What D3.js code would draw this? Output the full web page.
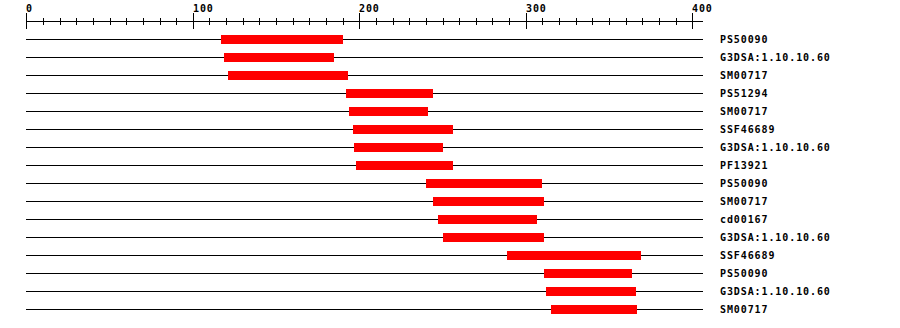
<!DOCTYPE html>
<html><head><meta charset="utf-8">
<script src="https://cdn.jsdelivr.net/npm/d3@7"></script>
<style>body{margin:0;background:#fff}svg{display:block}</style>
</head><body>
<script>
const seqLength = 406;
const labels = ["PS50090","G3DSA:1.10.10.60","SM00717","PS51294","SM00717","SSF46689","G3DSA:1.10.10.60","PF13921","PS50090","SM00717","cd00167","G3DSA:1.10.10.60","SSF46689","PS50090","G3DSA:1.10.10.60","SM00717"];
const starts = [117,119,121,192,194,196,197,198,240,244,247,250,289,311,312,315];
const ends   = [190,185,193,244,241,256,250,256,310,311,307,311,369,364,366,367];
const majorTicks = [0,100,200,300,400];
const minorTicks = d3.range(0,401,10);

const W=900,H=328;
const svg=d3.select("body").append("svg").attr("width",W).attr("height",H);
const x=d3.scaleLinear().domain([0,400]).range([26.3,692.3]);
const y=d3.scaleBand().domain(d3.range(labels.length)).range([30,318]);
const font="'DejaVu Sans Mono', monospace";

// axis
svg.append("line").attr("x1",Math.round(x(0))).attr("x2",Math.round(x(seqLength))+1)
  .attr("y1",21.5).attr("y2",21.5).attr("stroke","#000").attr("stroke-width",1);
svg.selectAll("line.minor").data(minorTicks).join("line").attr("class","minor")
  .attr("x1",d=>Math.round(x(d))+0.5).attr("x2",d=>Math.round(x(d))+0.5)
  .attr("y1",d=>d%100===0?13:18).attr("y2",d=>d%100===0?29:25)
  .attr("stroke","#000").attr("stroke-width",1);
svg.selectAll("text.tl").data(majorTicks).join("text").attr("class","tl")
  .attr("x",d=>Math.round(x(d))).attr("y",12)
  .attr("font-family",font).attr("font-weight","bold").attr("font-size","10px")
  .attr("letter-spacing","0.9px").text(d=>d);

// rows
const rows=svg.selectAll("g.row").data(labels).join("g").attr("class","row");
rows.append("line")
  .attr("x1",Math.round(x(0))).attr("x2",Math.round(x(seqLength))+1)
  .attr("y1",(d,i)=>Math.round(y(i)+y.bandwidth()/2)+0.5)
  .attr("y2",(d,i)=>Math.round(y(i)+y.bandwidth()/2)+0.5)
  .attr("stroke","#000").attr("stroke-width",1);
rows.append("rect")
  .attr("x",(d,i)=>Math.round(x(starts[i])))
  .attr("width",(d,i)=>Math.round(x(ends[i]))-Math.round(x(starts[i])))
  .attr("y",(d,i)=>Math.round(y(i)+y.bandwidth()/2)-4)
  .attr("height",9).attr("fill","#ff0000");
rows.append("text")
  .attr("x",720).attr("y",(d,i)=>Math.round(y(i)+y.bandwidth()/2)+4)
  .attr("font-family",font).attr("font-weight","bold").attr("font-size","10px")
  .attr("letter-spacing","0.9px").text(d=>d);
</script>
</body></html>
